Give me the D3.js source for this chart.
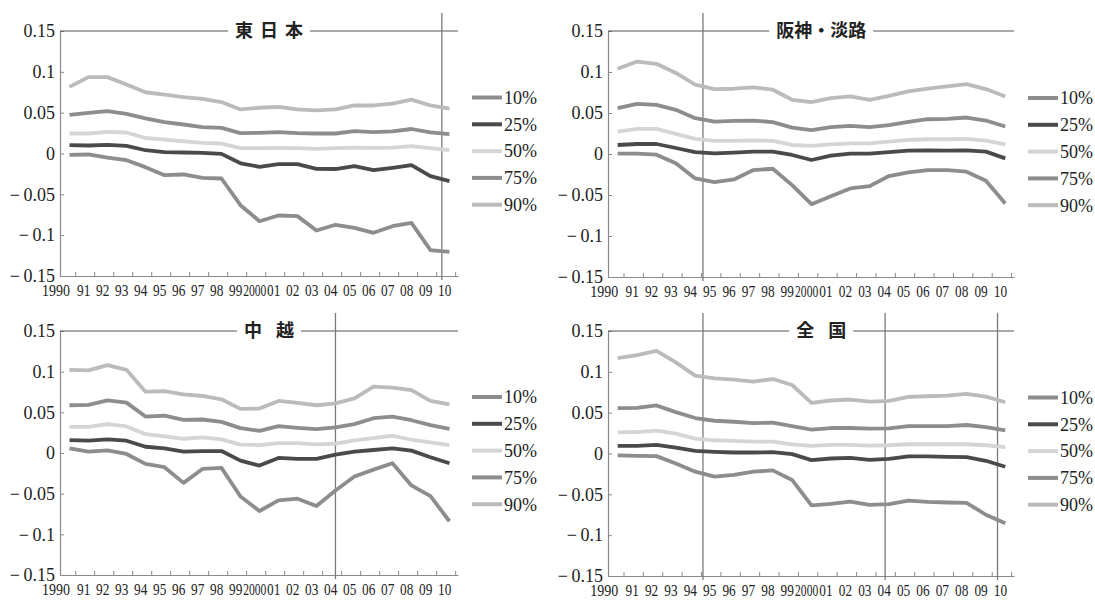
<!DOCTYPE html>
<html><head><meta charset="utf-8">
<script src="https://cdn.jsdelivr.net/npm/d3@7"></script>
<style>
html,body{margin:0;padding:0;background:#fff;}
svg{display:block;}
</style></head>
<body>
<svg id="chart" width="1095" height="600"></svg>
<script>
const years = [1990,1991,1992,1993,1994,1995,1996,1997,1998,1999,2000,2001,2002,2003,2004,2005,2006,2007,2008,2009,2010];
const yearLabels = ["1990","91","92","93","94","95","96","97","98","99","2000","01","02","03","04","05","06","07","08","09","10"];
const yTicks = [0.15,0.1,0.05,0,-0.05,-0.1,-0.15];
const yTickLabels = ["0.15","0.1","0.05","0","\u2212\u20090.05","\u2212\u20090.1","\u2212\u20090.15"];
const percentiles = ["10%","25%","50%","75%","90%"];
const panelTitles = ["東日本","阪神・淡路","中越","全国"];
const eventLines = [[2009.6],[1994.4],[2004.0],[1994.4,2003.8,2009.6]];

// 東日本
const ej10 = [-0.0016,-0.0012,-0.0049,-0.0082,-0.0167,-0.0265,-0.0257,-0.0298,-0.0306,-0.0633,-0.0829,-0.0759,-0.0767,-0.0943,-0.0873,-0.091,-0.0971,-0.089,-0.0849,-0.1184,-0.1204];
const ej25 = [0.0102,0.0098,0.0106,0.0094,0.004,0.0016,0.0012,0.0008,-0.0004,-0.012,-0.0163,-0.013,-0.013,-0.0188,-0.019,-0.0155,-0.0204,-0.0176,-0.0143,-0.0278,-0.0339];
const ej50 = [0.0245,0.0245,0.0265,0.0257,0.019,0.017,0.015,0.013,0.012,0.0065,0.0065,0.007,0.0065,0.0057,0.0065,0.0073,0.007,0.0073,0.009,0.0065,0.004];
const ej75 = [0.0473,0.0498,0.052,0.0486,0.0429,0.0384,0.0355,0.0322,0.0314,0.0249,0.0253,0.0261,0.0249,0.0245,0.0245,0.0273,0.0261,0.027,0.030,0.026,0.0237];
const ej90 = [0.0816,0.0935,0.0935,0.0845,0.075,0.072,0.069,0.067,0.063,0.054,0.056,0.057,0.054,0.0527,0.054,0.0588,0.0588,0.061,0.066,0.0588,0.055];
// 阪神・淡路
const hs10 = [0.0004,0.0004,-0.0008,-0.0114,-0.0298,-0.0343,-0.031,-0.0196,-0.018,-0.038,-0.0612,-0.0514,-0.042,-0.0392,-0.0269,-0.0224,-0.0196,-0.0196,-0.0216,-0.0327,-0.0604];
const hs25 = [0.011,0.0122,0.0122,0.0073,0.0024,0.0008,0.0016,0.0029,0.0029,-0.0012,-0.0073,-0.002,0.0004,0.0004,0.0024,0.0041,0.0045,0.0041,0.0045,0.0029,-0.0053];
const hs50 = [0.0273,0.0306,0.0306,0.0245,0.0184,0.0159,0.0159,0.0167,0.0159,0.011,0.0098,0.0118,0.013,0.013,0.0151,0.0171,0.018,0.018,0.0184,0.0163,0.0118];
const hs75 = [0.0559,0.0612,0.060,0.0539,0.0437,0.0396,0.0404,0.0408,0.0388,0.0322,0.029,0.0327,0.0343,0.0327,0.0351,0.0392,0.0424,0.0429,0.0445,0.0408,0.0335];
const hs90 = [0.104,0.1127,0.110,0.0988,0.0845,0.0792,0.0796,0.0812,0.0784,0.0661,0.0633,0.0682,0.0702,0.0661,0.071,0.0763,0.0796,0.0824,0.0853,0.0792,0.0702];
// 中越
const cz10 = [0.0057,0.0016,0.0033,-0.0012,-0.0134,-0.0175,-0.0367,-0.0196,-0.0183,-0.0534,-0.0713,-0.0583,-0.0562,-0.0652,-0.046,-0.0289,-0.0204,-0.0126,-0.0399,-0.053,-0.0839];
const cz25 = [0.0159,0.0151,0.0167,0.0151,0.0077,0.0057,0.0016,0.0024,0.0024,-0.0094,-0.0155,-0.0061,-0.0073,-0.0073,-0.002,0.0016,0.0037,0.0057,0.0029,-0.0053,-0.0126];
const cz50 = [0.0322,0.0322,0.0355,0.0326,0.0232,0.0204,0.0175,0.0192,0.0167,0.0102,0.0098,0.0122,0.0122,0.0106,0.0114,0.0155,0.0183,0.0212,0.0163,0.013,0.0098];
const cz75 = [0.0587,0.0591,0.0648,0.0619,0.0448,0.046,0.0407,0.0412,0.0383,0.0306,0.0273,0.033,0.031,0.0293,0.0314,0.0355,0.0428,0.0448,0.0403,0.0342,0.0297];
const cz90 = [0.1023,0.1015,0.108,0.1023,0.0754,0.0762,0.0721,0.0701,0.066,0.0542,0.0546,0.064,0.0615,0.0587,0.0611,0.0672,0.0815,0.0803,0.0774,0.064,0.0599];
// 全国
const nz10 = [-0.0024,-0.0028,-0.0032,-0.0122,-0.0223,-0.0284,-0.0263,-0.0223,-0.0207,-0.0324,-0.0636,-0.0616,-0.0588,-0.0628,-0.062,-0.0576,-0.0592,-0.06,-0.0604,-0.075,-0.0855];
const nz25 = [0.0093,0.0093,0.0105,0.0073,0.0032,0.002,0.0012,0.0012,0.0016,-0.0008,-0.0081,-0.0061,-0.0053,-0.0077,-0.0065,-0.0036,-0.0036,-0.0041,-0.0045,-0.0089,-0.0162];
const nz50 = [0.0259,0.0263,0.028,0.0243,0.0182,0.0162,0.0154,0.0146,0.0146,0.0113,0.0093,0.0105,0.0105,0.0097,0.0101,0.0113,0.0113,0.0113,0.0113,0.0101,0.0077];
const nz75 = [0.0555,0.0559,0.0588,0.0507,0.0434,0.0401,0.0389,0.0373,0.0377,0.0336,0.0292,0.0312,0.0312,0.0304,0.0308,0.0336,0.0336,0.0336,0.0349,0.0324,0.0284];
const nz90 = [0.1167,0.1204,0.1257,0.1115,0.0953,0.092,0.0904,0.088,0.0912,0.0839,0.062,0.0649,0.0661,0.0636,0.0644,0.0693,0.0701,0.0709,0.073,0.0697,0.0628];

const panelSeries = [
  [ej10, ej25, ej50, ej75, ej90],
  [hs10, hs25, hs50, hs75, hs90],
  [cz10, cz25, cz50, cz75, cz90],
  [nz10, nz25, nz50, nz75, nz90]
];
const seriesColors = ["#8d8d8d","#4a4a4a","#d5d5d5","#8d8d8d","#bbbbbb"];
const titleSpacing = [7, 0, 14, 14];

// layout (positions only)
const panelBoxes = [
  {x0:60,  x1:458,  y0:31,  y1:276},
  {x0:608, x1:1014, y0:31,  y1:277},
  {x0:60,  x1:458,  y0:331, y1:575},
  {x0:608, x1:1014, y0:331, y1:576}
];

const svg = d3.select("#chart");
svg.append("rect").attr("width",1095).attr("height",600).attr("fill","#fff");
const serif = "'Liberation Serif','DejaVu Serif',serif";
const cjk = "'Noto Sans CJK JP','Noto Sans CJK SC',sans-serif";

panelBoxes.forEach((b, pi) => {
  const g = svg.append("g");
  const x = d3.scaleLinear().domain([1989.5, 2010.45]).range([b.x0, b.x1]);
  const y = d3.scaleLinear().domain([-0.15, 0.15]).range([b.y1, b.y0]);

  // Y axis
  const ya = g.append("g").attr("transform", `translate(${b.x0},0)`)
    .call(d3.axisLeft(y).tickValues(yTicks).tickSize(-4).tickSizeOuter(0).tickPadding(5)
      .tickFormat((d,i) => yTickLabels[i]));
  ya.select(".domain").attr("stroke","#8a8a8a").attr("stroke-width",1.2);
  ya.selectAll(".tick line").attr("stroke","#8a8a8a");
  ya.selectAll(".tick text").attr("font-family",serif).attr("font-size",18).attr("fill","#222");

  // X axis
  const xa = g.append("g").attr("transform", `translate(0,${b.y1})`)
    .call(d3.axisBottom(x).tickValues(years.map(v => v + 0.3)).tickSize(-4).tickSizeOuter(0).tickFormat(""));
  xa.select(".domain").attr("stroke","#8a8a8a").attr("stroke-width",1.2);
  xa.selectAll(".tick line").attr("stroke","#8a8a8a");

  // X labels
  g.selectAll("text.xl").data(years).enter().append("text")
    .attr("class","xl")
    .attr("transform", (d,i) => {
      const sx = yearLabels[i].length === 4 ? (i === 0 ? 0.8 : 0.66) : 0.76;
      const px = i === 0 ? x(d) + 0.5 : x(d - 0.25);
      return `translate(${px},${b.y1 + 20}) scale(${sx},1)`;
    })
    .attr("text-anchor", (d,i) => i === 0 ? "end" : "middle")
    .attr("font-family", serif).attr("font-size", 17.5).attr("fill","#222")
    .text((d,i) => yearLabels[i]);

  // Header line
  g.append("line").attr("x1", b.x0).attr("x2", b.x1).attr("y1", y(0.15)).attr("y2", y(0.15))
    .attr("stroke","#555").attr("stroke-width",1.1);

  // Event lines
  eventLines[pi].forEach(ev => {
    g.append("line").attr("x1", x(ev)).attr("x2", x(ev))
      .attr("y1", b.y0 - 18).attr("y2", b.y1 + 4)
      .attr("stroke","#7a7a7a").attr("stroke-width",1.3);
  });

  // Title with white gap
  const title = Array.from(panelTitles[pi]);
  const fs = 18, ls = titleSpacing[pi];
  const cx = x(2000.5);
  const tw = title.length * fs + (title.length - 1) * ls;
  g.append("rect").attr("x", cx - tw/2 - 7).attr("y", y(0.15) - 4).attr("width", tw + 14).attr("height", 8).attr("fill","#fff");
  title.forEach((ch, ci) => {
    g.append("text")
      .attr("x", cx - tw/2 + fs/2 + ci * (fs + ls))
      .attr("y", y(0.15))
      .attr("dy","0.36em")
      .attr("text-anchor","middle")
      .attr("font-family", cjk).attr("font-weight", 700).attr("font-size", fs).attr("fill","#222")
      .text(ch);
  });

  // Lines
  const line = d3.line().x((d,i) => x(years[i])).y(d => y(d));
  const order = [4,3,2,0,1];
  order.forEach(si => {
    g.append("path").datum(panelSeries[pi][si])
      .attr("d", line).attr("fill","none")
      .attr("stroke", seriesColors[si]).attr("stroke-width", 3.8)
      .attr("stroke-linejoin","round");
  });

  // Legend
  const lg = g.append("g").attr("transform", `translate(${b.x1 + 14},${y(0) - 56})`);
  percentiles.forEach((p, i) => {
    const yy = i * 26.8;
    lg.append("line").attr("x1",0).attr("x2",30).attr("y1",yy).attr("y2",yy)
      .attr("stroke", seriesColors[i]).attr("stroke-width",4);
    lg.append("text").attr("x",32).attr("y",yy).attr("dy","0.35em")
      .attr("font-family", serif).attr("font-size",18).attr("fill","#222").text(p);
  });
});
</script>
</body></html>
